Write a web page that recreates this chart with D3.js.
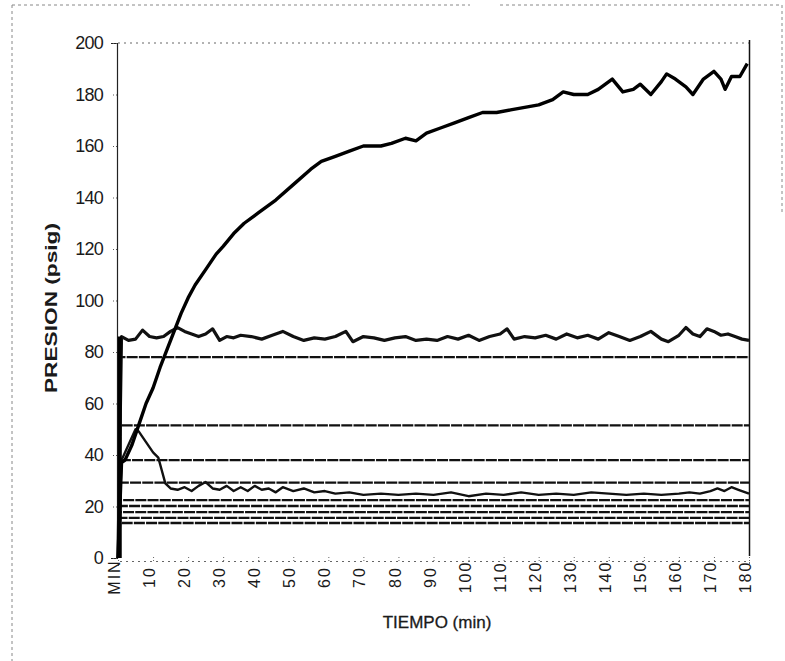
<!DOCTYPE html>
<html>
<head>
<meta charset="utf-8">
<script src="https://cdn.jsdelivr.net/npm/d3@7"></script>
<style>
  body { margin: 0; background: #fff; }
  text { font-family: "Liberation Sans", Arial, sans-serif; fill: #1a1a1a; }
</style>
</head>
<body>
<div id="chart"></div>
<script>
// Tick labels
const xTickValues = [0, 10, 20, 30, 40, 50, 60, 70, 80, 90, 100, 110, 120, 130, 140, 150, 160, 170, 180];
const xTickLabels = ["MIN", "10", "20", "30", "40", "50", "60", "70", "80", "90", "100", "110", "120", "130", "140", "150", "160", "170", "180"];
const yTickValues = [0, 20, 40, 60, 80, 100, 120, 140, 160, 180, 200];

// Rising pressure curve (time in min, pressure in psig)
const riseT = [0, 1, 2, 4, 6, 8, 10, 12, 14, 16, 18, 20, 22, 25, 28, 30, 33, 36, 40, 45, 50, 55, 58, 62, 66, 70, 75, 78, 82, 85, 88, 92, 96, 100, 104, 108, 112, 116, 120, 124, 127, 130, 134, 137, 141, 144, 147, 149, 152, 155, 156.5, 159, 162, 164, 167, 170, 172, 173.2, 175, 177.4, 179.5];
const riseP = [0, 37, 38, 44, 52, 60, 66, 74, 81, 88, 95, 101, 106, 112, 118, 121, 126, 130, 134, 139, 145, 151, 154, 156, 158, 160, 160, 161, 163, 162, 165, 167, 169, 171, 173, 173, 174, 175, 176, 178, 181, 180, 180, 182, 186, 181, 182, 184, 180, 185, 188, 186, 183, 180, 186, 189, 186, 182, 187, 187, 192];

// Noisy pressure around 86 psig
const nearT = [0, 1, 3, 5, 7, 9, 11, 13, 15, 17, 19, 21, 23, 25, 27, 29, 31, 33, 35, 38, 41, 44, 47, 50, 53, 56, 59, 62, 65, 67, 70, 73, 76, 79, 82, 85, 88, 91, 94, 97, 100, 103, 106, 109, 111, 113, 116, 119, 122, 125, 128, 131, 134, 137, 140, 143, 146, 149, 152, 155, 157, 160, 162, 164, 166, 168, 170, 172, 174, 176, 178, 180];
const nearP = [0, 86, 84.5, 85, 88.5, 86, 85.5, 86, 88, 89.5, 88, 87, 86, 87, 89, 84.5, 86, 85.5, 86.5, 86, 85, 86.5, 88, 86, 84.5, 85.5, 85, 86, 88, 84, 86, 85.5, 84.5, 85.5, 86, 84.5, 85, 84.5, 86, 85, 86.5, 84.5, 86, 87, 89, 85, 86, 85.5, 86.5, 85, 87, 85.5, 86.5, 85, 87.5, 86, 84.5, 86, 88, 85, 84, 86.5, 89.5, 87, 86, 89, 88, 86.5, 87, 86, 85, 84.5];

// Noisy pressure that peaks near 50 and settles near 25 psig
const lowT = [0, 1, 3, 5, 6, 8, 10, 11.5, 12.5, 13.5, 15, 17, 19, 21, 23, 25, 27, 29, 31, 33, 35, 37, 39, 41, 43, 45, 47, 50, 53, 56, 59, 62, 66, 70, 75, 80, 85, 90, 95, 100, 105, 110, 115, 120, 125, 130, 135, 140, 145, 150, 155, 160, 163, 166, 169, 171, 173, 175, 177, 179, 180];
const lowP = [0, 38, 44, 50, 49, 45, 41, 39, 34, 29, 27, 26.5, 27.5, 26, 28, 29.5, 27, 26.5, 28, 26, 27.5, 26, 28, 26.5, 27, 25.5, 27.5, 26, 27, 25.5, 26, 25, 25.5, 24.5, 25, 24.5, 25, 24.5, 25.5, 24, 25, 24.5, 25.5, 24.5, 25, 24.5, 25.5, 25, 24.5, 25, 24.5, 25, 25.5, 25, 26, 27, 26, 27.5, 26.5, 25.5, 25];

// Constant pressure lines (psig)
const flatLevels = [78, 51.5, 38, 29.3, 22.5, 20.2, 17.8, 15.6, 13.6];

const width = 785;
const height = 661;
const margin = { top: 43, right: 36, bottom: 103, left: 118 };

const svg = d3.select("#chart")
  .append("svg")
  .attr("width", width)
  .attr("height", height);

// Scales
const x = d3.scaleLinear()
  .domain([0, 180])
  .range([margin.left, width - margin.right]);

const y = d3.scaleLinear()
  .domain([0, 200])
  .range([height - margin.bottom, margin.top]);

// Outer dashed frame of the scanned page
const frame = svg.append("g")
  .attr("fill", "none")
  .attr("stroke", "#888")
  .attr("stroke-width", 1)
  .attr("stroke-dasharray", "3,3");
frame.append("line").attr("x1", 12).attr("x2", 470).attr("y1", 5).attr("y2", 5);
frame.append("line").attr("x1", 500).attr("x2", 782).attr("y1", 5).attr("y2", 5);
frame.append("line").attr("x1", 12).attr("x2", 12).attr("y1", 5).attr("y2", 661);
frame.append("line").attr("x1", 782).attr("x2", 782).attr("y1", 5).attr("y2", 215);

// Top dotted border of the plot area
svg.append("line")
  .attr("x1", x(0)).attr("x2", x(180))
  .attr("y1", y(200)).attr("y2", y(200))
  .attr("stroke", "#666")
  .attr("stroke-dasharray", "2,4");

// Right border of the plot area
svg.append("line")
  .attr("x1", x(180) + 0.5).attr("x2", x(180) + 0.5)
  .attr("y1", y(200) - 3).attr("y2", y(0) - 2)
  .attr("stroke", "#111")
  .attr("stroke-width", 1.5);

// Y axis
const yAxis = d3.axisLeft(y)
  .tickValues(yTickValues)
  .tickSize(6)
  .tickPadding(8);

const gy = svg.append("g")
  .attr("transform", `translate(${x(0) - 1}, 0)`)
  .call(yAxis);
gy.select(".domain").attr("stroke", "#222").attr("stroke-width", 1.2);
gy.selectAll(".tick line").attr("stroke", "#555").attr("stroke-dasharray", "1,2");
gy.selectAll(".tick text")
  .style("font-size", "18px")
  .attr("letter-spacing", "-0.8");

// X axis (dotted baseline, rotated labels)
const xAxis = d3.axisBottom(x)
  .tickValues(xTickValues)
  .tickFormat((d, i) => xTickLabels[i])
  .tickSize(5);

const gx = svg.append("g")
  .attr("transform", `translate(0, ${y(0) + 3})`)
  .call(xAxis);
gx.select(".domain").attr("stroke", "#666").attr("stroke-dasharray", "2,4");
gx.selectAll(".tick line")
  .attr("y1", -4).attr("y2", 2)
  .attr("stroke", "#666")
  .attr("stroke-dasharray", "1,2");
gx.selectAll(".tick text")
  .style("font-size", "16px")
  .attr("letter-spacing", "2")
  .attr("text-anchor", "middle")
  .attr("transform", "translate(-4, 16) rotate(-90)")
  .attr("x", 0)
  .attr("y", 0)
  .attr("dy", "0.35em");

// Axis titles
svg.append("text")
  .attr("transform", `translate(57, 308) rotate(-90)`)
  .attr("text-anchor", "middle")
  .attr("textLength", 170)
  .attr("lengthAdjust", "spacingAndGlyphs")
  .style("font-size", "17px")
  .style("font-weight", "bold")
  .text("PRESION (psig)");

svg.append("text")
  .attr("x", 437)
  .attr("y", 628)
  .attr("text-anchor", "middle")
  .attr("stroke", "#1a1a1a")
  .attr("stroke-width", 0.3)
  .style("font-size", "17px")
  .text("TIEMPO (min)");

// Line generator
const line = d3.line()
  .x(d => x(d[0]))
  .y(d => y(d[1]));

const zipSeries = (ts, ps) => ts.map((t, i) => [t, ps[i]]);

// Constant lines, each rising from zero at the start
flatLevels.forEach(v => {
  svg.append("path")
    .datum([[0.3, 0], [0.6, v], [180, v]])
    .attr("fill", "none")
    .attr("stroke", "#111")
    .attr("stroke-width", 2.3)
    .attr("stroke-dasharray", "11,1.2")
    .attr("d", line);
});

// Noisy low series
svg.append("path")
  .datum(zipSeries(lowT, lowP))
  .attr("fill", "none")
  .attr("stroke", "#111")
  .attr("stroke-width", 2.4)
  .attr("stroke-linejoin", "round")
  .attr("d", line);

// Noisy series near 86 psig
svg.append("path")
  .datum(zipSeries(nearT, nearP))
  .attr("fill", "none")
  .attr("stroke", "#111")
  .attr("stroke-width", 3.2)
  .attr("stroke-linejoin", "round")
  .attr("d", line);

// Rising series
svg.append("path")
  .datum(zipSeries(riseT, riseP))
  .attr("fill", "none")
  .attr("stroke", "#000")
  .attr("stroke-width", 3.4)
  .attr("stroke-linejoin", "round")
  .attr("d", line);

// Heavy vertical start stroke where all series jump up from zero
svg.append("path")
  .datum([[0.5, 0], [0.5, 86]])
  .attr("fill", "none")
  .attr("stroke", "#000")
  .attr("stroke-width", 4)
  .attr("d", line);
</script>
</body>
</html>
